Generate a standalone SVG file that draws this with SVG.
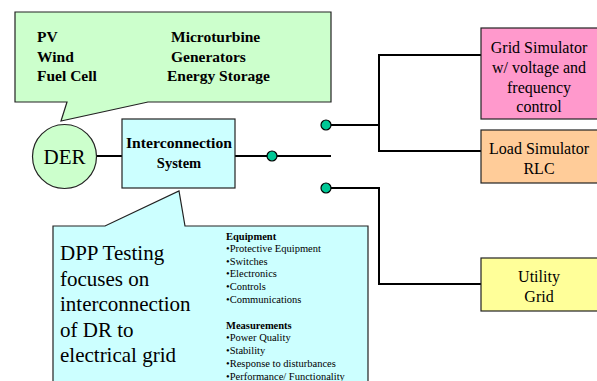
<svg xmlns="http://www.w3.org/2000/svg" width="597" height="381" viewBox="0 0 597 381">
<style>
text{font-family:'Liberation Serif','Times New Roman','DejaVu Serif',serif;fill:#000}
.b{font-weight:bold}
.wire{stroke:#000;stroke-width:2;fill:none}
.dot{fill:#00C896;stroke:#000;stroke-width:1.2}
.box{stroke:#222;stroke-width:1.2}
.mid{text-anchor:middle}
</style>
<rect width="597" height="381" fill="#fff"/>
<g id="connectors">
<line class="wire" x1="97" y1="156" x2="122" y2="156"/>
<line class="wire" x1="235" y1="156" x2="331" y2="156"/>
<polyline class="wire" points="326,125 379,125"/>
<polyline class="wire" points="481,55 379,55 379,151 481,151"/>
<polyline class="wire" points="326,188 379,188 379,284 481,284"/>
<circle class="dot" cx="272" cy="156" r="5"/>
<circle class="dot" cx="326" cy="125" r="5"/>
<circle class="dot" cx="326" cy="188" r="5"/>
</g>
<g id="der-types-callout">
<path d="M15,12 H331 V102 H148 L61,121 L67,102 H15 Z" fill="#CCFFCC" class="box"/>
<text class="b" font-size="15.5" x="37" y="42">PV</text>
<text class="b" font-size="15.5" x="37" y="62">Wind</text>
<text class="b" font-size="15.5" x="37" y="81">Fuel Cell</text>
<text class="b" font-size="15.5" x="171" y="42">Microturbine</text>
<text class="b" font-size="15.5" x="171" y="62">Generators</text>
<text class="b" font-size="15.5" x="167" y="81">Energy Storage</text>
</g>
<g id="der">
<circle cx="64.5" cy="156.5" r="32" fill="#CCFFCC" class="box"/>
<text class="mid" font-size="21" x="64.5" y="164">DER</text>
</g>
<g id="interconnection">
<rect x="122" y="119" width="113" height="69" fill="#CCFFFF" class="box"/>
<text class="b mid" font-size="14.5" x="179" y="148" textLength="106" lengthAdjust="spacingAndGlyphs">Interconnection</text>
<text class="b mid" font-size="14.5" x="179" y="168">System</text>
</g>
<g id="grid-simulator">
<rect x="481" y="28" width="118" height="91" fill="#FF99CC" class="box"/>
<text class="mid" font-size="16" x="539" y="53">Grid Simulator</text>
<text class="mid" font-size="16" x="539" y="73">w/ voltage and</text>
<text class="mid" font-size="16" x="539" y="93">frequency</text>
<text class="mid" font-size="16" x="539" y="112">control</text>
</g>
<g id="load-simulator">
<rect x="481" y="130" width="118" height="53" fill="#FFCC99" class="box"/>
<text class="mid" font-size="16" x="539" y="154">Load Simulator</text>
<text class="mid" font-size="16" x="539" y="174">RLC</text>
</g>
<g id="utility-grid">
<rect x="481" y="258" width="118" height="53" fill="#FFFF99" class="box"/>
<text class="mid" font-size="16" x="539" y="282">Utility</text>
<text class="mid" font-size="16" x="539" y="302">Grid</text>
</g>
<g id="dpp-callout">
<path d="M53,226 H105 L179,191 L185,226 H368 V390 H53 Z" fill="#CCFFFF" class="box"/>
<text font-size="21" x="60" y="260">DPP Testing</text>
<text font-size="21" x="60" y="286">focuses on</text>
<text font-size="21" x="60" y="311">interconnection</text>
<text font-size="21" x="60" y="337">of DR to</text>
<text font-size="21" x="60" y="362">electrical grid</text>
<g font-size="10.5">
<text class="b" x="226" y="240">Equipment</text>
<text x="226" y="252">•Protective Equipment</text>
<text x="226" y="265">•Switches</text>
<text x="226" y="277">•Electronics</text>
<text x="226" y="290">•Controls</text>
<text x="226" y="303">•Communications</text>
<text class="b" x="226" y="329">Measurements</text>
<text x="226" y="341">•Power Quality</text>
<text x="226" y="354">•Stability</text>
<text x="226" y="367">•Response to disturbances</text>
<text x="226" y="380">•Performance/ Functionality</text>
</g>
</g>
</svg>
